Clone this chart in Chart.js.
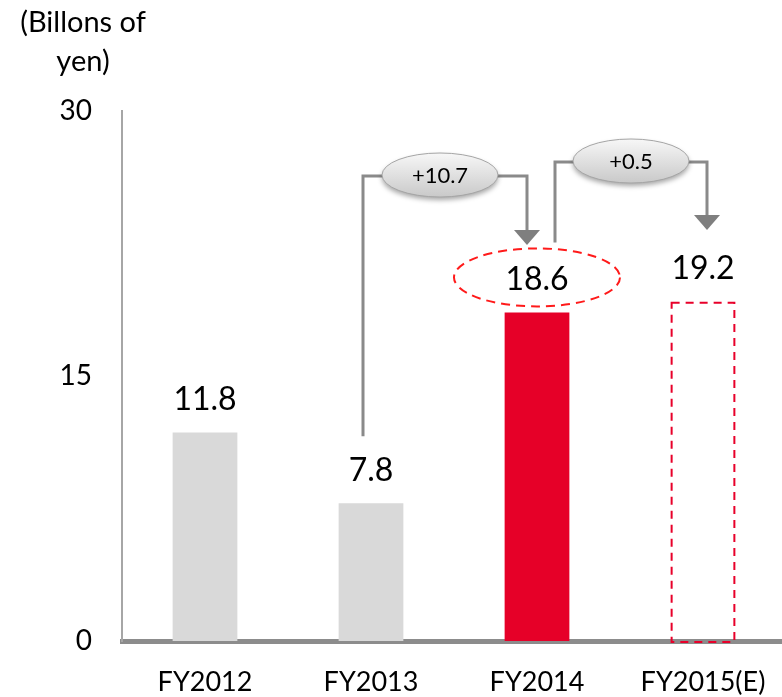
<!DOCTYPE html>
<html>
<head>
<meta charset="utf-8">
<script src="https://cdn.jsdelivr.net/npm/chart.js@4/dist/chart.umd.min.js"></script>
<style>
    html, body { margin: 0; padding: 0; background: #fff; overflow: hidden; }
    #wrap { width: 786px; height: 697px; position: relative; }
</style>
</head>
<body>
<div id="wrap"><canvas id="profitChart"></canvas></div>
<script>
/*
==================================
    Data
==================================
*/
var categories = ['FY2012', 'FY2013', 'FY2014', 'FY2015(E)'];
var profit = [11.8, 7.8, 18.6, 19.2];
var yTicks = [0, 15, 30];
var stepLabels = ['+10.7', '+0.5'];
var unitLines = ['(Billons of', 'yen)'];

var FONT = 'Lato, "Open Sans", sans-serif';
var barColors = ['#d9d9d9', '#d9d9d9', '#e60028', 'rgba(0,0,0,0)'];

/*
==================================
    Helpers
==================================
*/
function ellipsePath(ctx, cx, cy, rx, ry) {
    ctx.beginPath();
    ctx.ellipse(cx, cy, rx, ry, 0, 0, Math.PI * 2);
}
function badge(ctx, cx, cy, rx, ry, text) {
    ctx.save();
    ctx.shadowColor = 'rgba(0,0,0,0.35)';
    ctx.shadowBlur = 5;
    ctx.shadowOffsetY = 3;
    var g = ctx.createLinearGradient(0, cy - ry, 0, cy + ry);
    g.addColorStop(0, '#f7f7f7');
    g.addColorStop(1, '#c9c9c9');
    ctx.fillStyle = g;
    ellipsePath(ctx, cx, cy, rx, ry);
    ctx.fill();
    ctx.restore();
    ctx.save();
    ctx.strokeStyle = '#a5a5a5';
    ctx.lineWidth = 1;
    ellipsePath(ctx, cx, cy, rx, ry);
    ctx.stroke();
    ctx.fillStyle = '#000';
    ctx.font = '22px ' + FONT;
    ctx.textAlign = 'center';
    ctx.textBaseline = 'middle';
    ctx.fillText(text, cx, cy + 1);
    ctx.restore();
}
function arrowDown(ctx, x, yBase, yTip, half) {
    ctx.beginPath();
    ctx.moveTo(x - half, yBase);
    ctx.lineTo(x + half, yBase);
    ctx.lineTo(x, yTip);
    ctx.closePath();
    ctx.fill();
}
// connector: up from a, across through badge, down to arrow over b
function connector(ctx, x1, y1, x2, yLevel, yArrow, badgeX, label) {
    ctx.save();
    ctx.strokeStyle = '#8a8a8a';
    ctx.fillStyle = '#7f7f7f';
    ctx.lineWidth = 3;
    ctx.beginPath();
    ctx.moveTo(x1, y1);
    ctx.lineTo(x1, yLevel);
    ctx.lineTo(x2, yLevel);
    ctx.lineTo(x2, yArrow - 14);
    ctx.stroke();
    arrowDown(ctx, x2, yArrow - 15, yArrow, 13);
    ctx.restore();
    badge(ctx, badgeX, yLevel - 1, 58, 22, label);
}

/*
==================================
    Overlay Plugin
==================================
*/
var overlay = {
    id: 'overlay',
    afterDatasetsDraw: function(chart) {
        var ctx = chart.ctx;
        var bars = chart.getDatasetMeta(0).data;
        // forecast bar: dashed outline
        var f = bars[3];
        ctx.save();
        ctx.strokeStyle = '#e8002a';
        ctx.lineWidth = 2;
        ctx.setLineDash([8, 6]);
        ctx.strokeRect(f.x - f.width / 2 + 1, f.y + 1, f.width - 2, f.base - f.y);
        ctx.restore();
        // value labels
        ctx.save();
        ctx.fillStyle = '#000';
        ctx.font = '32px ' + FONT;
        ctx.textAlign = 'center';
        ctx.textBaseline = 'middle';
        bars.forEach(function(b, i) {
            ctx.fillText(profit[i].toFixed(1), b.x, b.y - 33);
        });
        ctx.restore();
    },
    afterDraw: function(chart) {
        var ctx = chart.ctx;
        var bars = chart.getDatasetMeta(0).data;
        // unit text
        ctx.save();
        ctx.fillStyle = '#000';
        ctx.font = '29px ' + FONT;
        ctx.textAlign = 'center';
        ctx.textBaseline = 'middle';
        ctx.fillText(unitLines[0], 83, 23);
        ctx.fillText(unitLines[1], 83, 62);
        ctx.restore();
        // dashed ring round FY2014 value
        var b2 = bars[2];
        ctx.save();
        ctx.strokeStyle = '#ff1a1a';
        ctx.lineWidth = 2;
        ctx.setLineDash([9, 6]);
        ellipsePath(ctx, b2.x, b2.y - 35, 83, 29);
        ctx.stroke();
        ctx.restore();
        // step connectors
        var b1 = bars[1], b3 = bars[3];
        connector(ctx, b1.x - 8, b1.y - 67, b2.x - 10, 176, 245, 440, stepLabels[0]);
        connector(ctx, b2.x + 18, b2.y - 70, b3.x + 4, 162, 230, 631, stepLabels[1]);
    }
};

/*
==================================
    Chart
==================================
*/
var ctx = document.getElementById('profitChart');
var profitChart = new Chart(ctx, {
    type: 'bar',
    data: {
        labels: categories,
        datasets: [{
            data: profit,
            backgroundColor: barColors,
            borderWidth: 0,
            categoryPercentage: 1,
            barPercentage: 0.39
        }]
    },
    options: {
        responsive: true,
        maintainAspectRatio: false,
        animation: false,
        layout: { padding: { top: 111, right: 0, left: 0, bottom: 0 } },
        plugins: {
            legend: { display: false },
            tooltip: { enabled: false }
        },
        scales: {
            x: {
                z: 1,
                grid: { display: false, drawTicks: false },
                border: { display: true, color: '#8c8c8c', width: 5 },
                ticks: { color: '#000', font: { family: FONT, size: 27 }, padding: 25, maxRotation: 0 },
                afterFit: function(scale) {
                    scale.height = 56;
                    scale.paddingLeft = 0;
                    scale.paddingRight = 0;
                }
            },
            y: {
                min: 0,
                max: 30,
                afterBuildTicks: function(scale) {
                    scale.ticks = yTicks.map(function(v) { return { value: v }; });
                },
                grid: { display: false, drawTicks: false },
                border: { display: true, color: '#a6a6a6', width: 2 },
                ticks: { color: '#000', font: { family: FONT, size: 28 }, padding: 30 },
                afterFit: function(scale) {
                    scale.width = 122;
                    scale.paddingTop = 0;
                    scale.paddingBottom = 0;
                }
            }
        }
    },
    plugins: [overlay]
});
</script>
</body>
</html>
